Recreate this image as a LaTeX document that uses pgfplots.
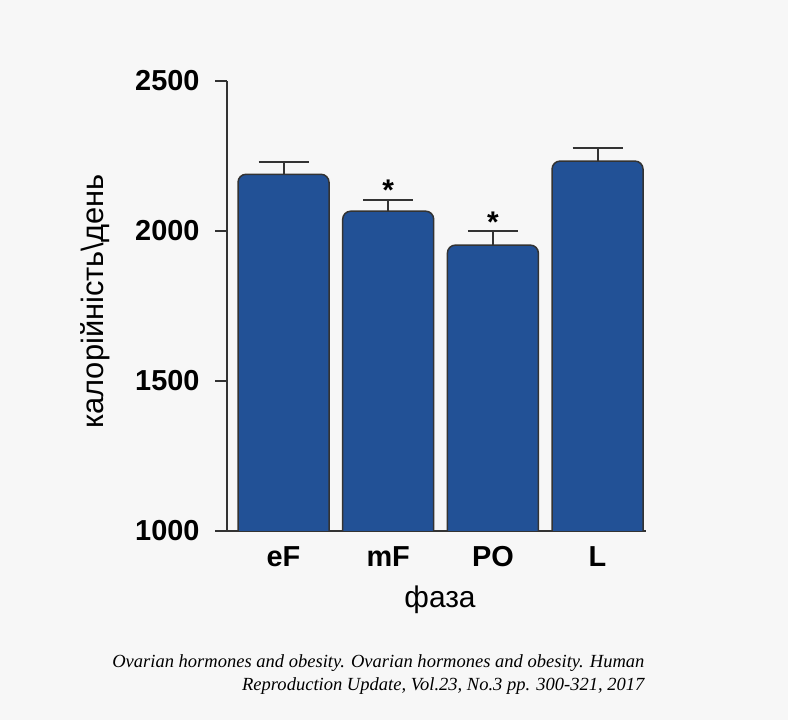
\documentclass[border=0pt]{standalone}
\usepackage{pgfplots}
\pgfplotsset{compat=1.18}
\usepackage{fontspec}
\setmainfont{Liberation Sans}
\newfontfamily\capfont{Liberation Serif}
\definecolor{bg}{HTML}{F7F7F7}
\definecolor{barblue}{HTML}{225196}
\definecolor{axgray}{HTML}{333333}
% b = hidden base below the axis, d = value - base, y = value, e = SEM
\pgfplotstableread{
x y e b d
0 2188 41 900 1288
1 2065 38 900 1165
2 1952 48 900 1052
3 2232 44 900 1332
}\phases
\begin{document}
\begin{tikzpicture}[x=1bp,y=1bp]
\fill[bg] (0,0) rectangle (788,720);
\begin{axis}[
  at={(227bp,189.3bp)}, anchor=south west,
  scale only axis, width=419bp, height=450bp,
  xmin=-0.54, xmax=3.463, ymin=1000, ymax=2500,
  axis lines*=left,
  axis line style={axgray, line width=2bp},
  xtick={0,1,2,3}, xticklabels={eF,mF,PO,L},
  ytick={1000,1500,2000,2500},
  tick align=outside,
  major tick length=12bp,
  every tick/.style={axgray, line width=2bp},
  x tick style={draw=none},
  /pgf/number format/assume math mode=true,
  /pgf/number format/1000 sep={},
  tick label style={font=\fontsize{29}{29}\selectfont\bfseries},
  yticklabel style={xshift=-12bp},
  xticklabel style={anchor=base, yshift=-24bp},
  ybar stacked, bar width=0.869,
]
\addplot[draw=none, fill=none, forget plot] table[x=x, y=b] {\phases};
\addplot[fill=barblue, draw=axgray, line width=1.5bp, rounded corners=8bp,
  error bars/.cd, y dir=plus, y explicit,
  error bar style={axgray, line width=2bp, sharp corners},
  error mark options={rotate=90, mark size=25bp, line width=2bp, axgray}]
  table[x=x, y=d, y error=e] {\phases};
\node[font=\fontsize{30}{30}\selectfont\bfseries] at (axis cs:1,2135) {*};
\node[font=\fontsize{30}{30}\selectfont\bfseries] at (axis cs:2,2027) {*};
\end{axis}
\node[rotate=90, font=\fontsize{31}{31}\selectfont] at (95,418.5) {калорійність\textbackslash день};
\node[anchor=base, font=\fontsize{30}{30}\selectfont] at (440,112) {фаза};
\node[anchor=base east, font=\capfont\itshape\fontsize{18.6}{18.6}\selectfont] at (648,52) {Ovarian hormones and obesity. Ovarian hormones and obesity. Human};
\node[anchor=base east, font=\capfont\itshape\fontsize{18.6}{18.6}\selectfont] at (648,29) {Reproduction Update, Vol.23, No.3 pp. 300-321, 2017};
\end{tikzpicture}
\end{document}
